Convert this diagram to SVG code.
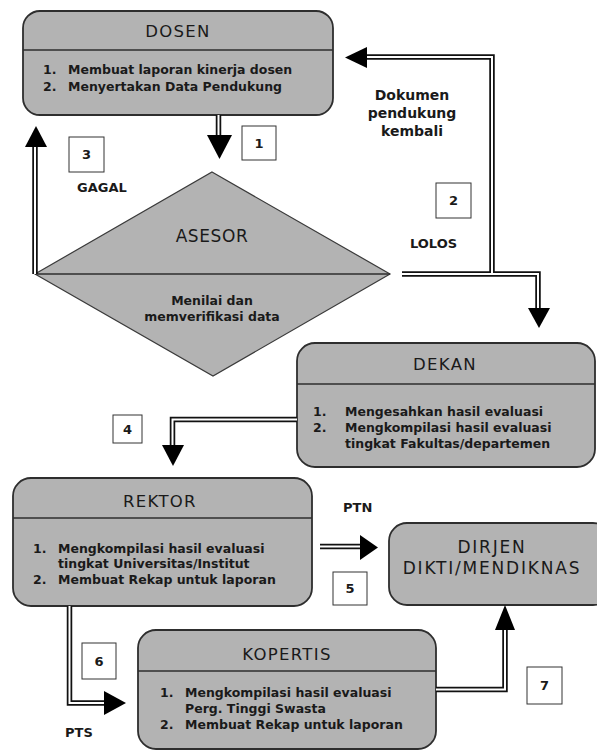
<svg xmlns="http://www.w3.org/2000/svg" width="597" height="750" viewBox="0 0 597 750">
<style>
.box{fill:#b3b3b3;stroke:#2e2e2e;stroke-width:1.8}
.div{stroke:#2e2e2e;stroke-width:1.4;fill:none}
.title{font-family:"DejaVu Sans",sans-serif;font-size:16.5px;letter-spacing:1.3px;fill:#1a1a1a;text-anchor:middle}
.item{font-family:"DejaVu Sans",sans-serif;font-weight:bold;font-size:12.5px;fill:#1a1a1a}
.lbl{font-family:"DejaVu Sans",sans-serif;font-weight:bold;font-size:13px;fill:#1a1a1a}
.doc{font-size:14px}
.mid{text-anchor:middle}
.nbox{fill:#fff;stroke:#333;stroke-width:1}
.outer{fill:none;stroke:#111;stroke-width:5.5}
.inner{fill:none;stroke:#fff;stroke-width:2}
.head{fill:#000}
</style>
<defs>
<path id="c1" d="M218.5,115 V136"/>
<path id="c2a" d="M402,274 H538 V309"/>
<path id="c2b" d="M492,274 V57 H366"/>
<path id="c3" d="M35,274 V146"/>
<path id="c4" d="M297,419.5 H172.5 V446"/>
<path id="c5" d="M320,546.5 H361"/>
<path id="c6" d="M69.5,606 V703 H105"/>
<path id="c7" d="M436,689.5 H505 V629"/>
</defs>

<g id="dosen">
<rect class="box" x="23" y="11" width="310" height="104" rx="17"/>
<line class="div" x1="23" y1="50" x2="333" y2="50"/>
<text class="title" x="178" y="37">DOSEN</text>
<text class="item" x="43" y="74">1.</text>
<text class="item" x="68" y="74">Membuat laporan kinerja dosen</text>
<text class="item" x="43" y="91">2.</text>
<text class="item" x="68" y="91">Menyertakan Data Pendukung</text>
</g>

<g id="asesor">
<polygon points="212,172 390,274 213,376 35,274" fill="#b3b3b3" stroke="#3a3a3a" stroke-width="1.2"/>
<line class="div" x1="35" y1="274" x2="390" y2="274"/>
<text class="title" x="212" y="242" style="font-size:17px;letter-spacing:0.6px">ASESOR</text>
<text class="item mid" x="212" y="305">Menilai dan</text>
<text class="item mid" x="212" y="321">memverifikasi data</text>
</g>

<g id="dekan">
<rect class="box" x="297" y="343" width="298" height="124" rx="18"/>
<line class="div" x1="297" y1="384" x2="595" y2="384"/>
<text class="title" x="445" y="370">DEKAN</text>
<text class="item" x="313" y="416">1.</text>
<text class="item" x="345" y="416">Mengesahkan hasil evaluasi</text>
<text class="item" x="313" y="432">2.</text>
<text class="item" x="345" y="432">Mengkompilasi hasil evaluasi</text>
<text class="item" x="345" y="448">tingkat Fakultas/departemen</text>
</g>

<g id="rektor">
<rect class="box" x="13" y="478" width="299" height="128" rx="18"/>
<line class="div" x1="13" y1="518" x2="312" y2="518"/>
<text class="title" x="160" y="507">REKTOR</text>
<text class="item" x="33" y="553">1.</text>
<text class="item" x="58" y="553">Mengkompilasi hasil evaluasi</text>
<text class="item" x="58" y="568">tingkat Universitas/Institut</text>
<text class="item" x="33" y="584">2.</text>
<text class="item" x="58" y="584">Membuat Rekap untuk laporan</text>
</g>

<g id="dirjen">
<rect class="box" x="389" y="523" width="222" height="82" rx="18"/>
<text class="title" x="492" y="553" style="font-size:17px;letter-spacing:1.8px">DIRJEN</text>
<text class="title" x="492" y="574" style="font-size:17px;letter-spacing:1.8px">DIKTI/MENDIKNAS</text>
</g>

<g id="kopertis">
<rect class="box" x="138" y="630" width="298" height="119" rx="18"/>
<line class="div" x1="138" y1="671" x2="436" y2="671"/>
<text class="title" x="287" y="660">KOPERTIS</text>
<text class="item" x="160" y="697">1.</text>
<text class="item" x="185" y="697">Mengkompilasi hasil evaluasi</text>
<text class="item" x="185" y="713">Perg. Tinggi Swasta</text>
<text class="item" x="160" y="729">2.</text>
<text class="item" x="185" y="729">Membuat Rekap untuk laporan</text>
</g>

<g id="connectors">
<use href="#c1" class="outer"/>
<use href="#c2a" class="outer"/>
<use href="#c2b" class="outer"/>
<use href="#c3" class="outer"/>
<use href="#c4" class="outer"/>
<use href="#c5" class="outer"/>
<use href="#c6" class="outer"/>
<use href="#c7" class="outer"/>
<use href="#c1" class="inner"/>
<use href="#c2a" class="inner"/>
<use href="#c2b" class="inner"/>
<use href="#c3" class="inner"/>
<use href="#c4" class="inner"/>
<use href="#c5" class="inner"/>
<use href="#c6" class="inner"/>
<use href="#c7" class="inner"/>
<polygon class="head" points="207,135 232,135 219.5,159"/>
<polygon class="head" points="528,308 550,308 539,328"/>
<polygon class="head" points="367,47 367,68 345,57.5"/>
<polygon class="head" points="25,147 47,147 36,126"/>
<polygon class="head" points="162,445 184,445 173,466"/>
<polygon class="head" points="360,535 360,560 378,547.5"/>
<polygon class="head" points="104,691 104,715 126,703"/>
<polygon class="head" points="495,630 515,630 505,605"/>
</g>

<g id="labels">
<rect class="nbox" x="242" y="126" width="34" height="34"/>
<text class="lbl mid" x="259" y="148">1</text>
<rect class="nbox" x="436" y="183" width="35" height="35"/>
<text class="lbl mid" x="453.5" y="205">2</text>
<rect class="nbox" x="69" y="137" width="35" height="35"/>
<text class="lbl mid" x="86.5" y="159">3</text>
<rect class="nbox" x="113" y="415" width="29" height="28"/>
<text class="lbl mid" x="127.5" y="434">4</text>
<rect class="nbox" x="333" y="572" width="34" height="33"/>
<text class="lbl mid" x="350" y="593">5</text>
<rect class="nbox" x="82" y="643" width="34" height="36"/>
<text class="lbl mid" x="99" y="666">6</text>
<rect class="nbox" x="527" y="667" width="35" height="37"/>
<text class="lbl mid" x="544.5" y="690">7</text>
<text class="lbl" x="77" y="192">GAGAL</text>
<text class="lbl" x="410" y="248">LOLOS</text>
<text class="lbl" x="343" y="512">PTN</text>
<text class="lbl" x="65" y="737">PTS</text>
<text class="lbl doc mid" x="412" y="100">Dokumen</text>
<text class="lbl doc mid" x="412" y="118">pendukung</text>
<text class="lbl doc mid" x="412" y="136">kembali</text>
</g>
</svg>
